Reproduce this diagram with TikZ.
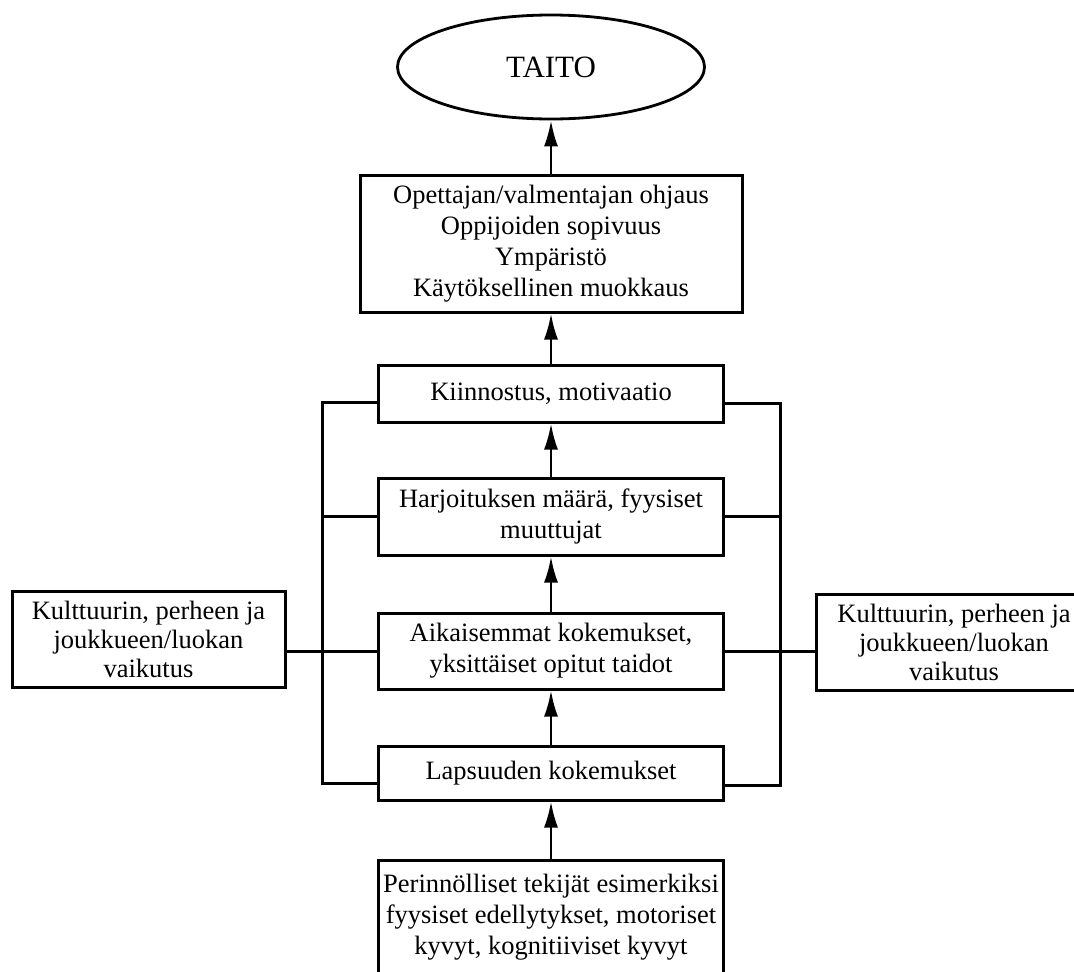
\documentclass[tikz,border=0pt]{standalone}
\usepackage{fontspec}
\setmainfont{Liberation Serif}
\usetikzlibrary{arrows.meta,positioning,shapes.geometric}
\tikzset{
  box/.style={draw, line width=3pt, align=center, inner sep=0pt,
    minimum width=345pt, font=\fontsize{26.5}{31}\selectfont},
  sidebox/.style={box, minimum height=96pt, font=\fontsize{26.5}{29}\selectfont},
  link/.style={line width=3pt},
  up/.style={line width=2.5pt, -{Latex[length=26pt,width=14pt]}}
}
\begin{document}
\begin{tikzpicture}[x=1pt,y=-1pt]
  \useasboundingbox (0,0) rectangle (1074,972);
  \def\cx{551}
  %Draw boxes
  \node[draw, ellipse, line width=2.8pt, minimum width=307pt, minimum height=104pt,
    inner sep=0pt, font=\fontsize{31}{36}\selectfont] (taito) at (\cx,67) {TAITO};
  \node[box, minimum width=382pt, minimum height=137pt] (ohjaus) at (\cx,243.5)
    {Opettajan/valmentajan ohjaus\\Oppijoiden sopivuus\\Ympäristö\\Käytöksellinen muokkaus};
  \node[box, minimum height=57pt] (motiv) at (\cx,393.5) {Kiinnostus, motivaatio};
  \node[box, minimum height=77pt] (harj) at (\cx,516.5) {Harjoituksen määrä, fyysiset\\muuttujat};
  \node[box, minimum height=76pt] (aik) at (\cx,651) {Aikaisemmat kokemukset,\\yksittäiset opitut taidot};
  \node[box, minimum height=54pt] (laps) at (\cx,773) {Lapsuuden kokemukset};
  \node[box, minimum height=115pt] (perim) at (\cx,917.5)
    {Perinnölliset tekijät esimerkiksi\\fyysiset edellytykset, motoriset\\kyvyt, kognitiiviset kyvyt};
  \node[sidebox, minimum width=273pt] (vaikL) at (148.5,639) {Kulttuurin, perheen ja\\joukkueen/luokan\\vaikutus};
  \node[sidebox, minimum width=276pt] (vaikR) at (954,642) {Kulttuurin, perheen ja\\joukkueen/luokan\\vaikutus};
  %Bracket corners
  \coordinate (lt) at (322,402);
  \coordinate (lb) at (322,783);
  \coordinate (rt) at (780,403);
  \coordinate (rb) at (780,785);
  %Draw arrows
  \draw[up] (ohjaus) -- (taito);
  \draw[up] (motiv) -- (ohjaus);
  \draw[up] (harj) -- (motiv);
  \draw[up] (aik) -- (harj);
  \draw[up] (laps) -- (aik);
  \draw[up] (perim) -- (laps);
  %Draw brackets
  \draw[link] (lt -| motiv.west) -- (lt) -- (lb) -- (lb -| laps.west);
  \draw[link] (rt -| motiv.east) -- (rt) -- (rb) -- (rb -| laps.east);
  \draw[link] (lt |- harj.west) -- (harj.west);
  \draw[link] (rt |- harj.east) -- (harj.east);
  \draw[link] (vaikL.east |- aik.west) -- (aik.west);
  \draw[link] (aik.east) -- (vaikR.west |- aik.east);
\end{tikzpicture}
\end{document}
